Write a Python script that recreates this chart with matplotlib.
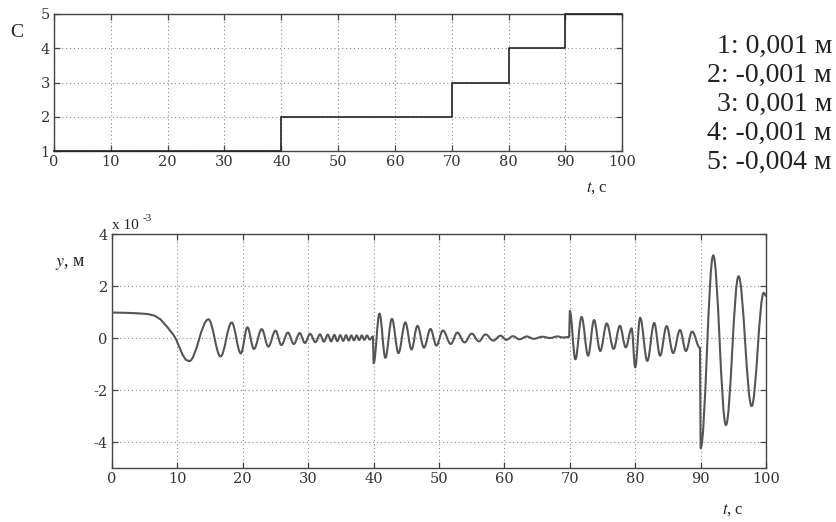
import matplotlib as mpl

mpl.use("Agg")
import matplotlib.pyplot as plt
from matplotlib.patches import PathPatch
from matplotlib.path import Path

mpl.rcParams.update(
    {
        "font.family": ["Liberation Serif", "DejaVu Serif"],
        "mathtext.fontset": "stix",
        "axes.unicode_minus": False,
        "axes.linewidth": 1.0,
        "axes.edgecolor": "#444444",
        "xtick.color": "#444444",
        "ytick.color": "#444444",
        "xtick.labelcolor": "#333333",
        "ytick.labelcolor": "#333333",
    }
)

INK = "#222222"
SIGNAL = "#555555"
GRID = "#8a8a8a"
TICK_FONT = "DejaVu Serif"

# top panel: coefficient C switching
STEP_T = [0, 40, 70, 80, 90, 100]
STEP_C = [1, 2, 3, 4, 5, 5]

# bottom panel: y(t), units of 1e-3 m
# smooth lead-in read point by point
LEAD_T = [0.0, 2.0, 4.0, 5.5, 6.5, 7.4, 8.4, 9.4, 9.8, 10.3, 10.8, 11.3, 11.8]
LEAD_Y = [0.98, 0.97, 0.95, 0.92, 0.86, 0.72, 0.44, 0.12, -0.05, -0.35, -0.65, -0.84, -0.89]

# successive peaks / troughs
PEAK_T = [
    14.75, 16.6, 18.3, 19.7, 20.7, 21.7, 22.9, 23.9, 25.0, 25.9,
    26.9, 27.8, 28.7, 29.5, 30.3, 31.1, 31.8, 32.4, 33.0, 33.5,
    34.0, 34.45, 34.9, 35.35, 35.8, 36.2, 36.6, 37.0, 37.4, 37.8,
    38.2, 38.6, 39.0, 39.4, 39.9,
    40.0, 40.9, 41.8, 42.8, 43.8, 44.85, 45.8, 46.7, 47.7, 48.7,
    49.6, 50.6, 51.8, 52.8, 53.9, 55.0, 56.1, 57.1, 58.3, 59.4,
    60.3, 61.3, 62.3, 63.4, 64.5, 65.8, 67.0, 68.1, 69.0, 69.9,
    70.0, 70.85, 71.8, 72.8, 73.7, 74.65, 75.65, 76.7, 77.65, 78.55,
    79.45, 80.0, 80.75, 81.85, 82.9, 83.8, 84.8, 85.8, 86.85, 87.75,
    88.7, 89.9,
    90.0, 91.93, 93.87, 95.8, 97.8, 99.65, 100.0,
]
PEAK_Y = [
    0.72, -0.71, 0.60, -0.59, 0.41, -0.42, 0.34, -0.33, 0.28, -0.27,
    0.21, -0.23, 0.19, -0.19, 0.16, -0.16, 0.14, -0.14, 0.13, -0.13,
    0.12, -0.12, 0.11, -0.11, 0.11, -0.10, 0.10, -0.09, 0.10, -0.08,
    0.10, -0.07, 0.10, -0.06, 0.06,
    -0.97, 0.94, -0.76, 0.74, -0.58, 0.60, -0.44, 0.47, -0.37, 0.35,
    -0.29, 0.29, -0.23, 0.21, -0.17, 0.17, -0.13, 0.14, -0.10, 0.09,
    -0.07, 0.07, -0.05, 0.06, -0.03, 0.05, 0.00, 0.06, 0.02, 0.04,
    1.04, -0.82, 0.81, -0.68, 0.69, -0.50, 0.56, -0.42, 0.47, -0.36,
    0.37, -1.13, 0.78, -0.88, 0.58, -0.68, 0.46, -0.58, 0.31, -0.50,
    0.25, -0.38,
    -4.24, 3.18, -3.35, 2.38, -2.62, 1.74, 1.62,
]

X_TICKS = list(range(0, 101, 10))
TOP_Y_TICKS = [1, 2, 3, 4, 5]
BOT_Y_TICKS = [-4, -2, 0, 2, 4]

LEGEND_LINES = [
    "1: 0,001 м",
    "2: -0,001 м",
    "3: 0,001 м",
    "4: -0,001 м",
    "5: -0,004 м",
]


def signal_path(lead_t, lead_y, peak_t, peak_y, k=0.364):
    # polyline for the lead-in, then cubic segments with flat tangents at each extremum
    verts = list(zip(lead_t, lead_y))
    codes = [Path.MOVETO] + [Path.LINETO] * (len(verts) - 1)
    pt, py = lead_t[-1], lead_y[-1]
    for t, y in zip(peak_t, peak_y):
        dt = t - pt
        verts += [(pt + k * dt, py), (t - k * dt, y), (t, y)]
        codes += [Path.CURVE4] * 3
        pt, py = t, y
    return Path(verts, codes)


def style_axes(ax, yticks):
    ax.set_xlim(0, 100)
    ax.set_xticks(X_TICKS)
    ax.set_yticks(yticks)
    ax.tick_params(direction="in", length=4, width=0.9, top=True, right=True,
                   labelsize=10.5, pad=3)
    for lab in ax.get_xticklabels() + ax.get_yticklabels():
        lab.set_family(TICK_FONT)
    ax.grid(True, linestyle=(0, (1, 2.5)), color=GRID, linewidth=0.8)
    ax.set_axisbelow(True)


fig = plt.figure(figsize=(8.37, 5.22), dpi=100)
fig.patch.set_facecolor("white")

# top: C(t)
ax1 = fig.add_axes([0.0645, 0.7107, 0.679, 0.2625])
ax1.plot(STEP_T, STEP_C, drawstyle="steps-post", color=INK, linewidth=1.2, clip_on=False, zorder=3)
ax1.set_ylim(1, 5)
style_axes(ax1, TOP_Y_TICKS)

fig.text(0.020, 0.938, "C", fontsize=14, color=INK, ha="center", va="center")
fig.text(0.713, 0.640, "$t$, с", fontsize=12, color=INK, ha="center", va="center")

for i, line in enumerate(LEGEND_LINES):
    fig.text(0.994, 0.911 - i * 0.0556, line, fontsize=20, color=INK, ha="right", va="center")

# bottom: y(t)
ax2 = fig.add_axes([0.1338, 0.1034, 0.7814, 0.4483])
ax2.add_patch(PathPatch(signal_path(LEAD_T, LEAD_Y, PEAK_T, PEAK_Y), facecolor="none",
                        edgecolor=SIGNAL, linewidth=1.5, capstyle="round", joinstyle="round", zorder=3))
ax2.set_ylim(-5, 4)
style_axes(ax2, BOT_Y_TICKS)

fig.text(0.1338, 0.556, "x 10", fontsize=11, color=INK, ha="left", va="bottom")
fig.text(0.1700, 0.572, "-3", fontsize=8, color=INK, ha="left", va="bottom")
fig.text(0.084, 0.496, "$y$, м", fontsize=13, color=INK, ha="center", va="center")
fig.text(0.876, 0.023, "$t$, с", fontsize=12, color=INK, ha="center", va="center")

fig.savefig("out.png", dpi=100)
